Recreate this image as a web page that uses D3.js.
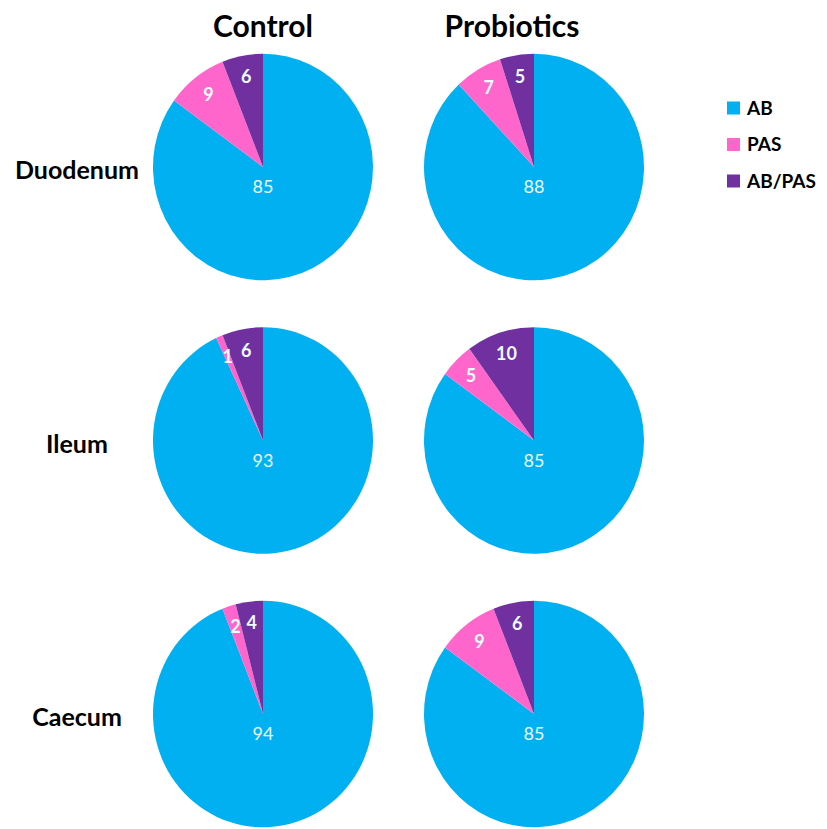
<!DOCTYPE html>
<html>
<head>
<meta charset="utf-8">
<script src="https://cdn.jsdelivr.net/npm/d3@7"></script>
<style>
  body { margin: 0; background: #fff; }
  svg { display: block; font-family: Lato, "Open Sans", sans-serif; }
</style>
</head>
<body>
<svg id="chart" width="827" height="829"></svg>
<script>
// groups (columns) and tissues (rows)
const groups = ["Control", "Probiotics"];
const tissues = ["Duodenum", "Ileum", "Caecum"];
const stains = ["AB", "PAS", "AB/PAS"];
const stainColors = ["#00B0F0", "#FF66CC", "#7030A0"];

// percentages per tissue, order AB, PAS, AB/PAS
const controlValues = [[85, 9, 6], [93, 1, 6], [94, 2, 4]];
const probioticsValues = [[88, 7, 5], [85, 5, 10], [85, 9, 6]];

let svg = d3.select("#chart");

let rx = 110, yStretch = 1.03;

// pie centres
let xScale = d3.scalePoint().domain(groups).range([263, 534]),
    yScale = d3.scalePoint().domain(tissues).range([167, 714]);

let color = d3.scaleOrdinal().domain(stains).range(stainColors);

let pie = d3.pie().sort(null).value(d => d.value),
    arc = d3.arc().innerRadius(0).outerRadius(rx),
    labelArc = d3.arc().innerRadius(rx * 0.81).outerRadius(rx * 0.81);

// column titles
svg.selectAll(".col-title")
    .data(groups)
    .enter().append("text")
    .attr("class", "col-title")
    .attr("x", (d, i) => i === 0 ? xScale(d) : xScale(d) - 22)
    .attr("y", 37)
    .attr("text-anchor", "middle")
    .style("font-size", "30px")
    .style("font-weight", "bold")
    .text(d => d);

// row titles
svg.selectAll(".row-title")
    .data(tissues)
    .enter().append("text")
    .attr("class", "row-title")
    .attr("x", 77)
    .attr("y", d => yScale(d) + 12)
    .attr("text-anchor", "middle")
    .style("font-size", "25px")
    .style("font-weight", "bold")
    .text(d => d);

let cells = [];
groups.forEach((g, gi) => {
    let vals = gi === 0 ? controlValues : probioticsValues;
    tissues.forEach((t, ti) => {
        cells.push({
            group: g, tissue: t,
            slices: stains.map((s, si) => ({stain: s, value: vals[ti][si]}))
        });
    });
});

let cell = svg.selectAll(".pie")
    .data(cells)
    .enter().append("g")
    .attr("class", "pie")
    .attr("transform", d => "translate(" + xScale(d.group) + "," + yScale(d.tissue) + ")");

cell.append("g")
    .attr("transform", "scale(1," + yStretch + ")")
    .selectAll("path")
    .data(d => pie(d.slices))
    .enter().append("path")
    .attr("d", arc)
    .attr("fill", d => color(d.data.stain));

// value labels (big AB slice label sits just under the centre)
cell.selectAll("text")
    .data(d => pie(d.slices))
    .enter().append("text")
    .attr("transform", (d, i) => {
        if (i === 0) return "translate(0," + 20 + ")";
        let c = labelArc.centroid(d);
        return "translate(" + c[0] + "," + c[1] * yStretch + ")";
    })
    .attr("dy", "0.35em")
    .attr("text-anchor", "middle")
    .attr("fill", "#eafcff")
    .style("font-size", "18px")
    .style("font-weight", (d, i) => i === 0 ? "normal" : "bold")
    .text(d => d.data.value);

// legend
let legend = svg.append("g")
    .attr("transform", "translate(727,0)");

let legendY = d3.scalePoint().domain(stains).range([108, 181]);

let item = legend.selectAll(".item")
    .data(stains)
    .enter().append("g")
    .attr("class", "item")
    .attr("transform", d => "translate(0," + legendY(d) + ")");

item.append("rect")
    .attr("x", 0)
    .attr("y", -6.5)
    .attr("width", 13)
    .attr("height", 13)
    .attr("fill", d => color(d));

item.append("text")
    .attr("x", 20)
    .attr("dy", "0.36em")
    .style("font-size", "19px")
    .style("font-weight", "bold")
    .text(d => d);
</script>
</body>
</html>
